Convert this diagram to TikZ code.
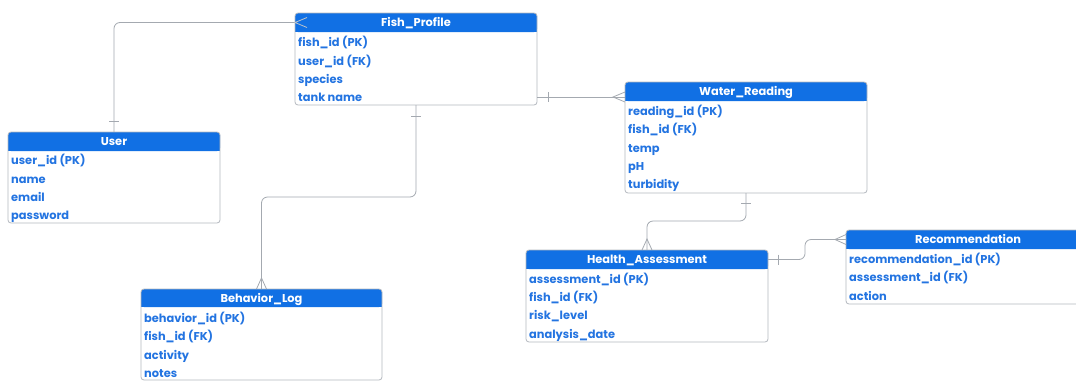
\documentclass[tikz,border=0pt]{standalone}
\usepackage{fontspec}
\setmainfont{Poppins}
\usetikzlibrary{calc}
\definecolor{hdr}{HTML}{1170E4}
\definecolor{rowc}{HTML}{2374E1}
\definecolor{linec}{HTML}{B5B9BF}
\definecolor{conn}{HTML}{A4A9B0}
\tikzset{
  tblbox/.style={fill=white, draw=none, inner sep=0pt, outer sep=0pt, rounded corners=3pt},
  tblborder/.style={draw=linec, line width=0.8pt, rounded corners=3pt},
  hdrtxt/.style={inner sep=0pt, outer sep=0pt, text=white, text height=10pt, text depth=2pt, font=\fontsize{11.4}{12}\selectfont\bfseries},
  rowtxt/.style={anchor=west, inner sep=0pt, text=rowc, text height=10pt, text depth=1pt, font=\fontsize{11.4}{12}\selectfont\bfseries},
  conline/.style={draw=conn, line width=0.8pt, rounded corners=6pt},
  cmark/.style={draw=conn, line width=0.8pt},
}
\newcommand\ertable[7]{%
  \node[tblbox, minimum width={(#4-#2)*1pt}, minimum height={(#5-#3)*1pt}] (#1) at ({(#2+#4)/2},{(#3+#5)/2}) {};
  \fill[hdr, rounded corners=3pt] (#2,#3) rectangle (#4,#6);
  \fill[hdr] (#2,#6-4) rectangle (#4,#6);
  \draw[tblborder] (#2,#3) rectangle (#4,#5);
  \node[hdrtxt, minimum width={(#4-#2)*1pt}, minimum height={(#6-#3)*1pt}] (#1h) at ({(#2+#4)/2},{(#3+#6)/2}) {#7};
}
\newcommand\errow[4]{\node[rowtxt] (#1) at (#2,#3) {#4};}
\begin{document}
\begin{tikzpicture}[x=1pt,y=-1pt]
\useasboundingbox (0,0) rectangle (1076,381);
\clip (0,0) rectangle (1076,381);
\fill[white] (0,0) rectangle (1076,381);

% tables
\ertable{fp}{295}{13}{537}{105}{32}{Fish\_Profile}
\errow{fpr1}{298}{42}{fish\_id (PK)}
\errow{fpr2}{298}{61}{user\_id (FK)}
\errow{fpr3}{298}{79}{species}
\errow{fpr4}{298}{97}{tank name}

\ertable{us}{8}{132}{220}{223}{151}{User}
\errow{usr1}{11}{160}{user\_id (PK)}
\errow{usr2}{11}{179}{name}
\errow{usr3}{11}{197}{email}
\errow{usr4}{11}{215}{password}

\ertable{wr}{625}{82}{867}{193}{101}{Water\_Reading}
\errow{wrr1}{628}{111}{reading\_id (PK)}
\errow{wrr2}{628}{129}{fish\_id (FK)}
\errow{wrr3}{628}{148}{temp}
\errow{wrr4}{628}{166}{pH}
\errow{wrr5}{628}{184}{turbidity}

\ertable{ha}{526}{250}{768}{342}{269}{Health\_Assessment}
\errow{har1}{529}{279}{assessment\_id (PK)}
\errow{har2}{529}{297}{fish\_id (FK)}
\errow{har3}{529}{315}{risk\_level}
\errow{har4}{529}{334}{analysis\_date}

\ertable{rc}{846}{230}{1090}{304}{249}{Recommendation}
\errow{rcr1}{849}{259}{recommendation\_id (PK)}
\errow{rcr2}{849}{277}{assessment\_id (FK)}
\errow{rcr3}{849}{296}{action}

\ertable{bl}{141}{289}{382}{380}{307}{Behavior\_Log}
\errow{blr1}{144}{318}{behavior\_id (PK)}
\errow{blr2}{144}{336}{fish\_id (FK)}
\errow{blr3}{144}{355}{activity}
\errow{blr4}{144}{373}{notes}

% connectors
\draw[conline] (us.north) |- (fph.west);
\draw[cmark] ($(us.north)+(-5,-11)$) -- ++(10,0);
\draw[draw=conn!70!white, line width=0.8pt] ($(fph.west)+(12,-5)$) -- (fph.west) -- ($(fph.west)+(12,5)$);

\draw[conline] (fp.east |- fpr4) -- (wr.west |- fpr4);
\draw[cmark] ($(fp.east |- fpr4)+(11,-5)$) -- ++(0,10);
\draw[cmark] ($(wr.west |- fpr4)+(0,-5)$) -- ($(wr.west |- fpr4)+(-12,0)$) -- ($(wr.west |- fpr4)+(0,5)$);

\draw[conline] (fp.south) -- ++(0,92) -| (bl.north);
\draw[cmark] ($(fp.south)+(-5,11)$) -- ++(10,0);
\draw[cmark] ($(bl.north)+(-5,0)$) -- ($(bl.north)+(0,-11)$) -- ($(bl.north)+(5,0)$);

\draw[conline] (wr.south) -- ++(0,28) -| (ha.north);
\draw[cmark] ($(wr.south)+(-5,10)$) -- ++(10,0);
\draw[cmark] ($(ha.north)+(-5,0)$) -- ($(ha.north)+(0,-11)$) -- ($(ha.north)+(5,0)$);

\draw[conline] (hah.east) -- ++(37,0) |- (rch.west);
\draw[cmark] ($(hah.east)+(10,-5)$) -- ++(0,10);
\draw[cmark] ($(rch.west)+(0,-5)$) -- ($(rch.west)+(-11,0)$) -- ($(rch.west)+(0,5)$);
\end{tikzpicture}
\end{document}
